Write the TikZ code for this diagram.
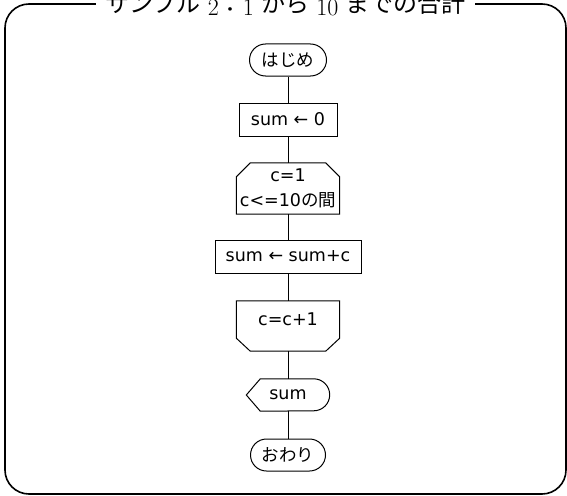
\documentclass[tikz,border=0pt]{standalone}
\usepackage{fontspec}
\newfontfamily\nodefont{DejaVu Sans}
\newfontfamily\cjk{Noto Sans CJK JP}
\usetikzlibrary{shapes.misc}
\newcommand{\tdig}[1]{\raisebox{-0.1em}{#1}}
\tikzset{
  x=1pt, y=-1pt,
  base/.style={font=\nodefont\fontsize{17.5}{25}\selectfont, inner sep=0pt, align=center},
  procbox/.style={base, draw, line width=1pt, rectangle, minimum height=33pt},
  termbox/.style={base, draw, line width=1pt, rounded rectangle, minimum height=32pt},
  plainbox/.style={base, rectangle},
  outline/.style={draw, line width=1pt, line join=miter},
  conn/.style={draw, line width=1pt},
  frameline/.style={draw, line width=1.6pt, rounded corners=24pt},
  titlebox/.style={fill=white, inner xsep=9pt, inner ysep=2pt, font=\fontsize{24}{28}\selectfont}
}
\begin{document}
\begin{tikzpicture}
\useasboundingbox (0,0) rectangle (567,495);
\clip (0,0) rectangle (567,495);
% frame
\draw[frameline] (5,4) rectangle (566,494);
\node[titlebox] (title) at (285.5,4) {{\cjk サンプル}\hspace{0.3em}\tdig{2}{\cjk ：}\tdig{1}\hspace{0.3em}{\cjk から}\hspace{0.3em}\tdig{10}\hspace{0.3em}{\cjk までの合計}};
% nodes
\node[termbox, minimum width=77pt] (start) at (288,60) {{\cjk はじめ}};
\node[procbox, minimum width=98pt] (init) at (288,119.5) {sum ← 0};
\node[plainbox, minimum width=103pt, minimum height=51pt] (lstart) at (288,188.5) {c=1\\c<=10{\cjk の間}};
\node[procbox, minimum width=146pt] (acc) at (288,256.5) {sum ← sum+c};
\node[plainbox, minimum width=103pt, minimum height=50pt, text depth=14pt] (lend) at (288,326) {c=c+1};
\node[plainbox, minimum width=83pt, minimum height=32pt] (disp) at (288,395) {sum};
\node[termbox, minimum width=75pt] (stop) at (288,455) {{\cjk おわり}};
% custom outlines
\draw[outline] ([yshift=-14pt]lstart.north west) -- ([xshift=14pt]lstart.north west) -- ([xshift=-14pt]lstart.north east) -- ([yshift=-14pt]lstart.north east) -- (lstart.south east) -- (lstart.south west) -- cycle;
\draw[outline] (lend.north west) -- (lend.north east) -- ([yshift=13pt]lend.south east) -- ([xshift=-14pt]lend.south east) -- ([xshift=14pt]lend.south west) -- ([yshift=13pt]lend.south west) -- cycle;
\draw[outline] (disp.west) -- ([xshift=14pt]disp.north west) -- ([xshift=-16pt]disp.north east) arc[start angle=90, end angle=-90, radius=16pt] -- ([xshift=14pt]disp.south west) -- cycle;
% connectors
\draw[conn] (start.south) -- (init.north);
\draw[conn] (init.south) -- (lstart.north);
\draw[conn] (lstart.south) -- (acc.north);
\draw[conn] (acc.south) -- (lend.north);
\draw[conn] (lend.south) -- (disp.north);
\draw[conn] (disp.south) -- (stop.north);
\end{tikzpicture}
\end{document}
